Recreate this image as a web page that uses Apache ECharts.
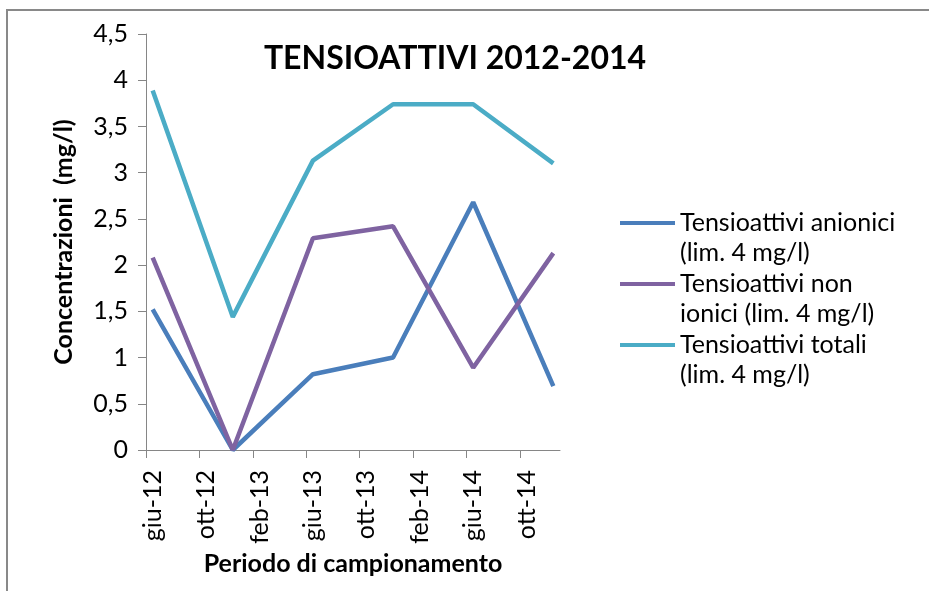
<!DOCTYPE html>
<html>
<head>
<meta charset="utf-8">
<script src="https://cdn.jsdelivr.net/npm/echarts@6/dist/echarts.min.js"></script>
<style>html,body{margin:0;padding:0;background:#fff}#c{width:929px;height:591px}</style>
</head>
<body>
<div id="c"></div>
<script>
// ---- data ----
const sampleMonths = [0, 6, 12, 18, 24, 30]; // months since giu-12 (giu-12, dic-12, giu-13, dic-13, giu-14, dic-14)
const anionici = [1.52, 0, 0.82, 1.0, 2.68, 0.69];
const nonIonici = [2.08, 0, 2.29, 2.42, 0.89, 2.13];
const totali = [3.89, 1.44, 3.13, 3.74, 3.74, 3.10];
const seriesNames = [
  'Tensioattivi anionici\n(lim. 4 mg/l)',
  'Tensioattivi non\nionici (lim. 4 mg/l)',
  'Tensioattivi totali\n(lim. 4 mg/l)'
];
const xTickMonths = [0, 4, 8, 12, 16, 20, 24, 28];
const xTickLabels = ['giu-12', 'ott-12', 'feb-13', 'giu-13', 'ott-13', 'feb-14', 'giu-14', 'ott-14'];
const yTickLabels = ['0', '0,5', '1', '1,5', '2', '2,5', '3', '3,5', '4', '4,5'];
const totalMonths = 31;

const FONT = 'Lato';
const colors = ['#4a7ebb', '#7f63a1', '#4bacc6'];
const values = [anionici, nonIonici, totali];

const chart = echarts.init(document.getElementById('c'), null, {renderer: 'canvas'});
const option = {
  backgroundColor: '#fff',
  animation: false,
  color: colors,
  title: {
    text: 'TENSIOATTIVI 2012-2014',
    left: 455, top: 43, textAlign: 'center', padding: 0,
    textStyle: {fontFamily: FONT, fontWeight: 'bold', fontSize: 32, color: '#000'}
  },
  legend: {
    orient: 'vertical',
    left: 620, top: 178, padding: 0,
    itemWidth: 55, itemHeight: 4, itemGap: -29,
    icon: 'rect',
    formatter: n => ' \n' + n,
    textStyle: {fontFamily: FONT, fontSize: 25, color: '#000', lineHeight: 30},
    data: seriesNames
  },
  grid: {left: 146, right: 369, top: 34, bottom: 141, containLabel: false},
  xAxis: {
    type: 'value', min: 0, max: totalMonths,
    splitLine: {show: false},
    axisLine: {show: true, lineStyle: {color: '#868686', width: 1}},
    axisTick: {show: true, length: 8, lineStyle: {color: '#868686'}, customValues: xTickMonths},
    axisLabel: {
      customValues: xTickMonths.map(m => m + 0.5),
      formatter: (v) => xTickLabels[xTickMonths.indexOf(v - 0.5)] || '',
      rotate: 90, margin: 20, fontFamily: FONT, fontSize: 25, color: '#000'
    },
    name: 'Periodo di campionamento', nameLocation: 'middle', nameGap: 100,
    nameTextStyle: {fontFamily: FONT, fontWeight: 'bold', fontSize: 25, color: '#000'}
  },
  yAxis: {
    type: 'value', min: 0, max: 4.5, interval: 0.5,
    splitLine: {show: false},
    axisLine: {show: true, lineStyle: {color: '#868686', width: 1}},
    axisTick: {show: true, length: 8, lineStyle: {color: '#868686'}},
    axisLabel: {
      formatter: (v, i) => yTickLabels[Math.round(v / 0.5)],
      margin: 18, fontFamily: FONT, fontSize: 25, color: '#000'
    },
    name: 'Concentrazioni  (mg/l)', nameLocation: 'middle', nameGap: 70, nameRotate: 90,
    nameTextStyle: {fontFamily: FONT, fontWeight: 'bold', fontSize: 25, color: '#000'}
  },
  graphic: [{
    type: 'rect', silent: true, z: -1,
    shape: {x: 7, y: 10, width: 1200, height: 1200},
    style: {fill: 'none', stroke: '#898989', lineWidth: 2}
  }],
  series: values.map((vals, i) => ({
    name: seriesNames[i],
    type: 'line',
    symbol: 'none',
    lineStyle: {width: 4.5, color: colors[i]},
    itemStyle: {color: colors[i]},
    data: sampleMonths.map((m, j) => [m + 0.5, vals[j]])
  }))
};
chart.setOption(option);
</script>
</body>
</html>
